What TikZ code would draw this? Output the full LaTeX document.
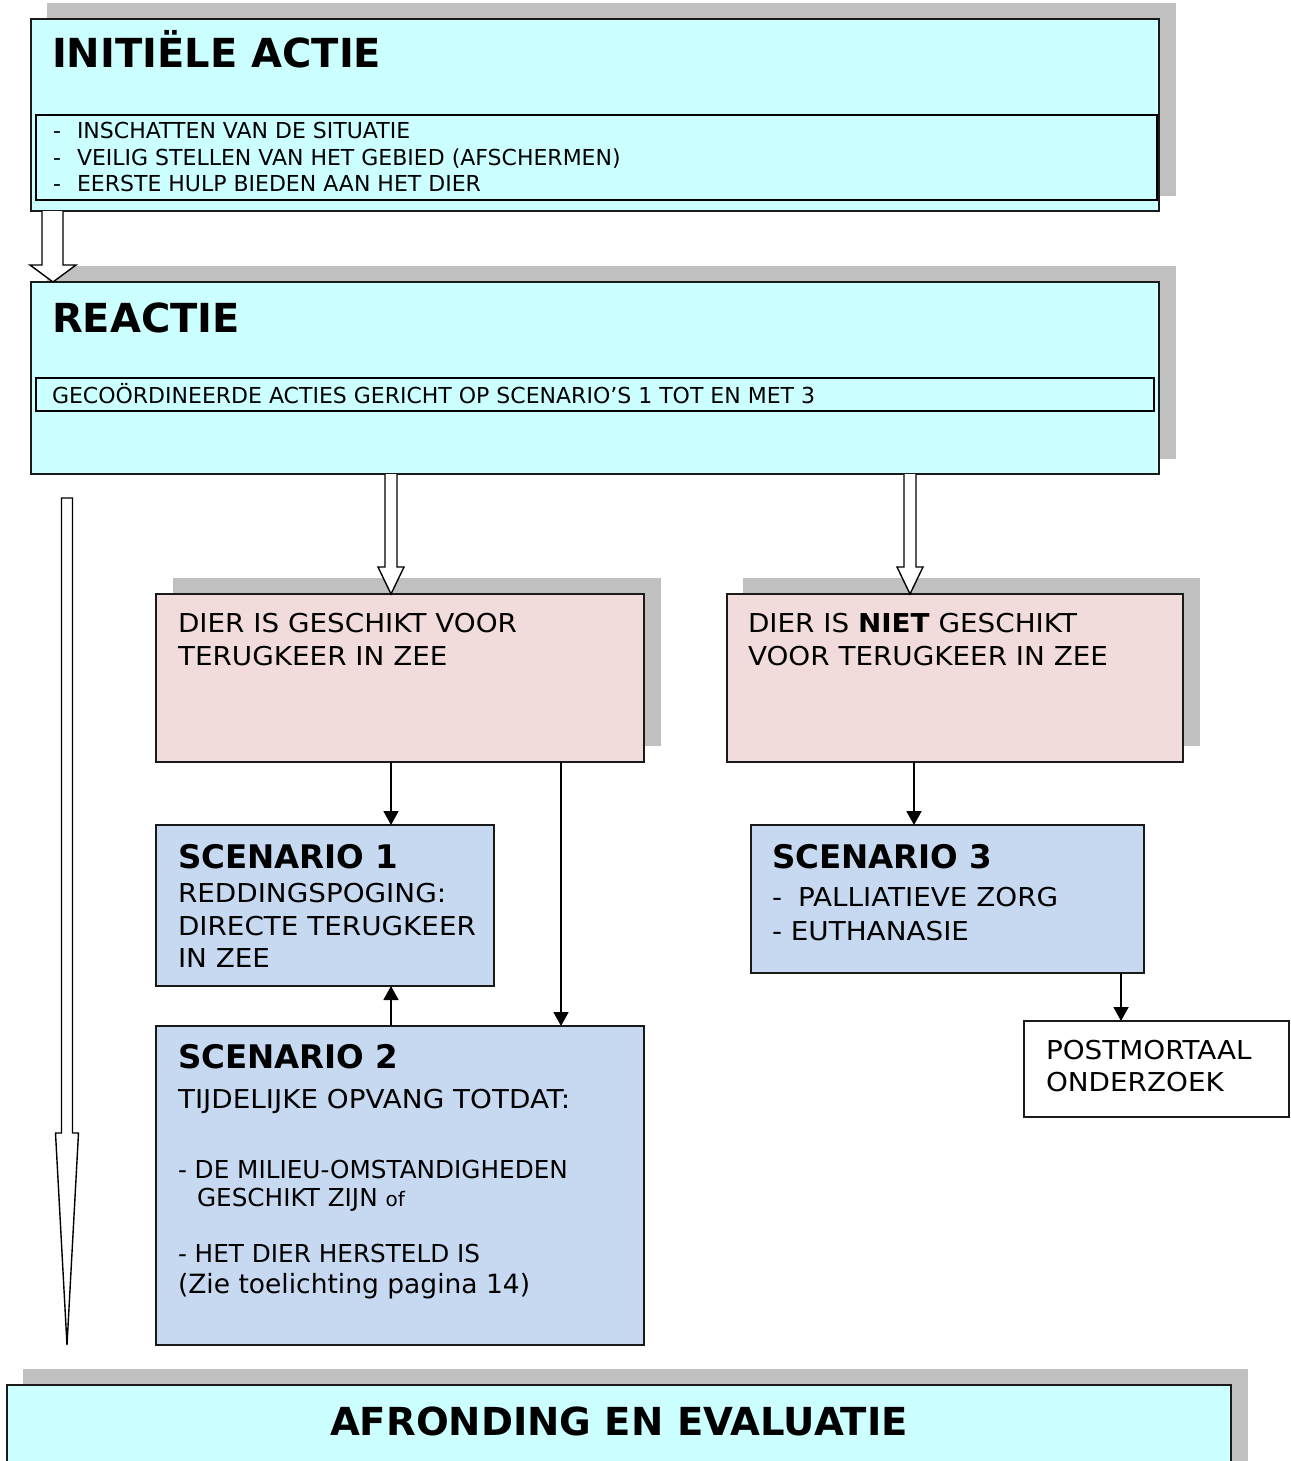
\documentclass[tikz,border=0pt]{standalone}
\usepackage{fontspec}
\setmainfont{DejaVu Sans}
\newfontfamily\widefont[FakeStretch=1.07]{DejaVu Sans}
\usetikzlibrary{arrows.meta,calc}
\definecolor{cyanbox}{HTML}{CCFFFF}
\definecolor{pinkbox}{HTML}{F2DCDB}
\definecolor{bluebox}{HTML}{C6D9F1}
\definecolor{shadowgray}{HTML}{C0C0C0}
\definecolor{edge}{HTML}{1A1A1A}
\newcommand{\titlefont}{\fontsize{40}{46}\selectfont\bfseries}
\newcommand{\lasttitlefont}{\fontsize{38.6}{46}\selectfont\bfseries}
\newcommand{\smallfont}{\fontsize{22}{26}\selectfont}
\newcommand{\midfont}{\fontsize{24.7}{28}\selectfont}
\newcommand{\bodyfont}{\widefont\fontsize{26}{33}\selectfont}
\newcommand{\plainbody}{\fontsize{26.5}{33}\selectfont}
\newcommand{\scfont}{\fontsize{32.5}{38}\selectfont\bfseries}
\begin{document}
\begin{tikzpicture}[x=1pt,y=-1pt,
  boxbase/.style={draw=edge,line width=1.6pt,anchor=north west,inner sep=0pt,outer sep=0pt},
  cbox/.style={boxbase,fill=cyanbox},
  pbox/.style={boxbase,fill=pinkbox},
  bbox/.style={boxbase,fill=bluebox},
  wbox/.style={boxbase,fill=white},
  ibox/.style={draw=black,line width=2.2pt,anchor=north west,inner sep=0pt,outer sep=0pt},
  txt/.style={anchor=base west,inner sep=0pt,outer sep=0pt},
  shad/.style={fill=shadowgray},
  arr/.style={draw=black,line width=1.8pt,-{Triangle[width=15pt,length=14pt]}},
  hollow/.style={draw=black,fill=white,line width=1.4pt,line join=miter}
]
\useasboundingbox (0,0) rectangle (1290,1461);

% ---------- INITIELE ACTIE ----------
\fill[shad] (47,3) rectangle (1176,196);
\node[cbox,minimum width=1128,minimum height=192] (b1) at (31,19) {};
\node[ibox,minimum width=1121,minimum height=85] (b1i) at (36,115) {};
\node[txt] (t1) at (52,68) {\titlefont INITIËLE ACTIE};
\node[txt] (t1a) at (53,139) {\smallfont -};
\node[txt] (t1b) at (77,139) {\smallfont INSCHATTEN VAN DE SITUATIE};
\node[txt] (t1c) at (53,165) {\smallfont -};
\node[txt] (t1d) at (77,165) {\smallfont VEILIG STELLEN VAN HET GEBIED (AFSCHERMEN)};
\node[txt] (t1e) at (53,191) {\smallfont -};
\node[txt] (t1f) at (77,191) {\smallfont EERSTE HULP BIEDEN AAN HET DIER};

% ---------- REACTIE ----------
\fill[shad] (47,266) rectangle (1176,459);
\node[cbox,minimum width=1128,minimum height=192] (b2) at (31,282) {};
\node[ibox,minimum width=1118,minimum height=33] (b2i) at (36,378) {};
\node[txt] (t2) at (52,332) {\titlefont REACTIE};
\node[txt] (t2a) at (52,403) {\smallfont GECOÖRDINEERDE ACTIES GERICHT OP SCENARIO’S 1 TOT EN MET 3};

% hollow arrow b1 -> b2
\draw[hollow] ($(b1.south west)+(11,0)$) -- ($(b1.south west)+(11,54)$) -- ($(b1.south west)+(-1,54)$)
  -- ($(b1.south west)+(22,71)$) -- ($(b1.south west)+(45,54)$) -- ($(b1.south west)+(32,54)$)
  -- ($(b1.south west)+(32,0)$);

% ---------- DIER boxes ----------
\fill[shad] (173,578) rectangle (661,746);
\node[pbox,minimum width=488,minimum height=168] (d1) at (156,594) {};
\node[txt] (d1a) at (178,632) {\bodyfont DIER IS GESCHIKT VOOR};
\node[txt] (d1b) at (178,665) {\bodyfont TERUGKEER IN ZEE};

\fill[shad] (743,578) rectangle (1200,746);
\node[pbox,minimum width=456,minimum height=168] (d2) at (727,594) {};
\node[txt] (d2a) at (748,632) {\bodyfont DIER IS \textbf{NIET} GESCHIKT};
\node[txt] (d2b) at (748,665) {\bodyfont VOOR TERUGKEER IN ZEE};

% hollow arrows b2 -> d1, d2
\coordinate (h1) at (391,0);
\coordinate (h2) at (910,0);
\draw[hollow] ($(b2.south -| h1)+(-6,0)$) -- ($(b2.south -| h1)+(-6,93)$) -- ($(b2.south -| h1)+(-13,93)$)
  -- (d1.north -| h1) -- ($(b2.south -| h1)+(13,93)$) -- ($(b2.south -| h1)+(6,93)$) -- ($(b2.south -| h1)+(6,0)$);
\draw[hollow] ($(b2.south -| h2)+(-6,0)$) -- ($(b2.south -| h2)+(-6,93)$) -- ($(b2.south -| h2)+(-13,93)$)
  -- (d2.north -| h2) -- ($(b2.south -| h2)+(13,93)$) -- ($(b2.south -| h2)+(6,93)$) -- ($(b2.south -| h2)+(6,0)$);

% ---------- SCENARIO 1 ----------
\node[bbox,minimum width=338,minimum height=161] (s1) at (156,825) {};
\node[txt] (s1t) at (178,868) {\scfont SCENARIO 1};
\node[txt] (s1a) at (178,902) {\bodyfont REDDINGSPOGING:};
\node[txt] (s1b) at (178,935) {\bodyfont DIRECTE TERUGKEER};
\node[txt] (s1c) at (178,967) {\bodyfont IN ZEE};

% ---------- SCENARIO 2 ----------
\node[bbox,minimum width=488,minimum height=319] (s2) at (156,1026) {};
\node[txt] (s2t) at (178,1068) {\scfont SCENARIO 2};
\node[txt] (s2u) at (178,1108) {\bodyfont TIJDELIJKE OPVANG TOTDAT:};
\node[txt] (s2v) at (178,1178) {\midfont - DE MILIEU-OMSTANDIGHEDEN};
\node[txt] (s2w) at (197,1206) {\midfont GESCHIKT ZIJN {\fontsize{20}{22}\selectfont of}};
\node[txt] (s2x) at (178,1262) {\midfont - HET DIER HERSTELD IS};
\node[txt] (s2y) at (178,1293) {\plainbody (Zie toelichting pagina 14)};

% ---------- SCENARIO 3 ----------
\node[bbox,minimum width=393,minimum height=148] (s3) at (751,825) {};
\node[txt] (s3t) at (772,868) {\scfont SCENARIO 3};
\node[txt] (s3a) at (772,906) {\bodyfont -};
\node[txt] (s3b) at (798,906) {\bodyfont PALLIATIEVE ZORG};
\node[txt] (s3c) at (772,940) {\bodyfont - EUTHANASIE};

% ---------- POSTMORTAAL ----------
\node[wbox,minimum width=265,minimum height=96] (pm) at (1024,1021) {};
\node[txt] (pma) at (1046,1059) {\bodyfont POSTMORTAAL};
\node[txt] (pmb) at (1046,1091) {\bodyfont ONDERZOEK};

% thin arrows
\coordinate (a1) at (391,0);
\coordinate (a2) at (561,0);
\coordinate (a3) at (914,0);
\coordinate (a4) at (1121,0);
\draw[arr] (d1.south -| a1) -- (s1.north -| a1);
\draw[arr] (d1.south -| a2) -- (s2.north -| a2);
\draw[arr] (s2.north -| a1) -- (s1.south -| a1);
\draw[arr] (d2.south -| a3) -- (s3.north -| a3);
\draw[arr] (s3.south -| a4) -- (pm.north -| a4);

% ---------- AFRONDING ----------
\fill[shad] (23,1369) rectangle (1248,1461);
\node[cbox,minimum width=1224,minimum height=90] (af) at (7,1385) {};
\node[anchor=base,inner sep=0pt] (aft) at (619,1435) {\lasttitlefont AFRONDING EN EVALUATIE};

% long hollow arrow on left
\coordinate (lt) at (67,498);
\coordinate (ltip) at (67,1345);
\draw[hollow] ($(lt)+(-5.5,0)$) -- ($(lt)+(-5.5,635)$) -- ($(lt)+(-11.5,635)$) -- (ltip)
  -- ($(lt)+(11.5,635)$) -- ($(lt)+(5.5,635)$) -- ($(lt)+(5.5,0)$) -- cycle;
\end{tikzpicture}
\end{document}
